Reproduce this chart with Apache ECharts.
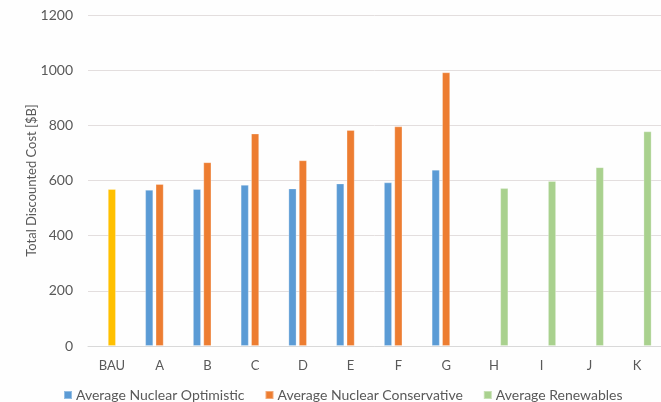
<!DOCTYPE html>
<html>
<head>
<meta charset="utf-8">
<script src="https://cdn.jsdelivr.net/npm/echarts@6/dist/echarts.min.js"></script>
<style>
html,body{margin:0;padding:0;background:#fefefe;}
#chart{width:661px;height:402px;}
</style>
</head>
<body>
<div id="chart"></div>
<script>
const categories = ['BAU','A','B','C','D','E','F','G','H','I','J','K'];
const bauValue = 569;
const nuclearOptimistic = [null,566,569,584,571,589,593,639,null,null,null,null];
const nuclearConservative = [null,587,666,770,673,783,796,992,null,null,null,null];
const renewables = [null,null,null,null,null,null,null,null,572,598,648,778];
const yTicks = [0,200,400,600,800,1000,1200];

const FONT = 'Lato';
const TXT = '#595959';
const colors = {opt:'#5b9bd5', cons:'#ed7d31', ren:'#a9d18e', bau:'#ffc000'};

const consData = nuclearConservative.map((v,i)=> i===0 ? {value:bauValue, itemStyle:{color:colors.bau}} : v);

const chart = echarts.init(document.getElementById('chart'), null, {renderer:'canvas'});
const barBase = {type:'bar', barWidth:8, barGap:'30%', itemStyle:{borderColor:'rgba(255,255,255,0.35)', borderWidth:0.8}};
chart.setOption({
  backgroundColor:'#fefefe',
  animation:false,
  textStyle:{fontFamily:FONT},
  grid:{left:88, right:-2, top:15, bottom:56, containLabel:false},
  legend:{
    left:58, top:383, itemWidth:8, itemHeight:8, itemGap:20,
    icon:'rect',
    textStyle:{fontFamily:FONT, fontSize:14, color:TXT, padding:[0,0,0,-1]},
    data:['Average Nuclear Optimistic','Average Nuclear Conservative','Average Renewables']
  },
  xAxis:{
    type:'category', data:categories,
    axisLine:{show:true, lineStyle:{color:'#d9d9d9', width:1}},
    axisTick:{show:false},
    axisLabel:{color:TXT, fontFamily:FONT, fontSize:13, margin:13}
  },
  yAxis:{
    type:'value', min:0, max:1200, interval:200,
    name:'Total Discounted Cost [$B]', nameLocation:'middle', nameGap:50,
    nameMoveOverlap:false,
    nameTextStyle:{color:TXT, fontFamily:FONT, fontSize:13},
    axisLine:{show:false}, axisTick:{show:false},
    axisLabel:{color:TXT, fontFamily:FONT, fontSize:14, margin:15,
      formatter:v=> yTicks.includes(v) ? String(v) : ''},
    splitLine:{lineStyle:{color:'#e3dede', width:1}}
  },
  series:[
    Object.assign({}, barBase, {name:'Average Nuclear Optimistic', data:nuclearOptimistic, itemStyle:Object.assign({}, barBase.itemStyle, {color:colors.opt})}),
    Object.assign({}, barBase, {name:'Average Nuclear Conservative', data:consData, itemStyle:Object.assign({}, barBase.itemStyle, {color:colors.cons})}),
    Object.assign({}, barBase, {name:'Average Renewables', data:renewables, itemStyle:Object.assign({}, barBase.itemStyle, {color:colors.ren})})
  ]
});
</script>
</body>
</html>
